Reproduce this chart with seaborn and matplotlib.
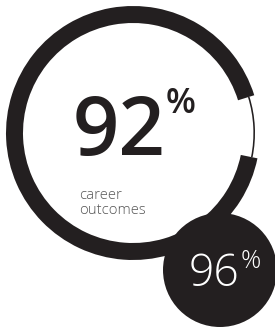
import matplotlib
matplotlib.use("Agg")
import matplotlib.pyplot as plt
from matplotlib.patches import Circle
import seaborn as sns

# data
main_value = 92          # career outcomes (%)
second_value = 96        # secondary figure (%)
ring_values = [main_value, 100 - main_value]
main_label = "92"
second_label = "96"
caption_lines = ["career", "outcomes"]

sns.set_theme(style="white")
plt.rcParams['font.family'] = ['Open Sans', 'DejaVu Sans']

INK = "#231f20"
W, H = 275, 329

fig = plt.figure(figsize=(W / 100, H / 100), dpi=100)
fig.patch.set_facecolor("white")
ax = fig.add_axes([0, 0, 1, 1])

cx, cy = 133, H - 133
r_out, ring_w = 127, 17
start = 17.3

# thick ring: filled part
ax.pie(ring_values, center=(cx, cy), radius=r_out, startangle=start,
       counterclock=True, colors=[INK, "none"],
       wedgeprops=dict(width=ring_w, linewidth=0))
# thin line in the remaining gap
ax.pie(ring_values, center=(cx, cy), radius=r_out - 5, startangle=start,
       counterclock=True, colors=["none", INK],
       wedgeprops=dict(width=1.6, linewidth=0))

# secondary filled circle
ax.add_patch(Circle((220, H - 270), 57, color=INK, lw=0, zorder=3))

ax.set_xlim(0, W)
ax.set_ylim(0, H)
ax.set_aspect("equal")
ax.axis("off")

# texts
ax.text(73, H - 155, main_label, fontsize=58.5, fontweight="semibold",
        color=INK, ha="left", va="baseline")
ax.text(166, H - 113, "%", fontsize=25, fontweight="semibold",
        color=INK, ha="left", va="baseline")
ax.text(79, H - 199, caption_lines[0], fontsize=10.7, fontweight="light",
        color="#555555", ha="left", va="baseline")
ax.text(79, H - 214, caption_lines[1], fontsize=10.7, fontweight="light",
        color="#555555", ha="left", va="baseline")
ax.text(189, H - 286, second_label, fontsize=32, fontweight="light",
        color="white", ha="left", va="baseline", zorder=4)
ax.text(241, H - 268, "%", fontsize=18, fontweight="light",
        color="white", ha="left", va="baseline", zorder=4)

fig.savefig("out.png", dpi=100, facecolor="white")
